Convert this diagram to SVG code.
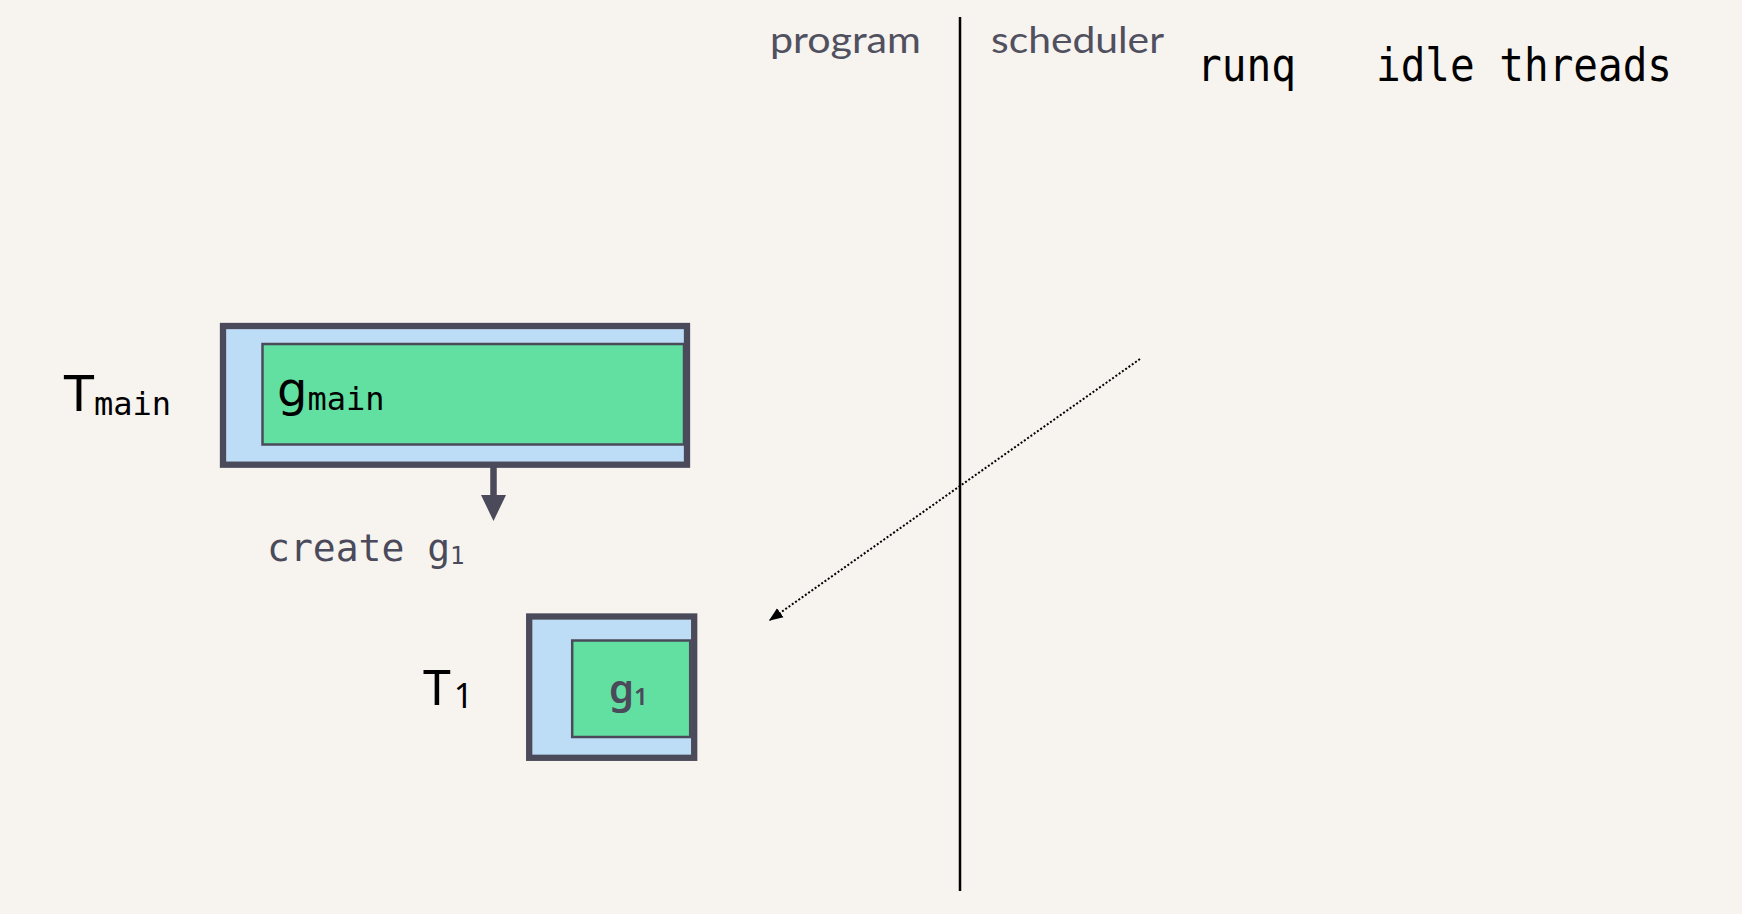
<svg xmlns="http://www.w3.org/2000/svg" width="1742" height="914" viewBox="0 0 1742 914">
  <defs>
    <marker id="dotHead" viewBox="0 0 10 10" refX="9" refY="5" markerWidth="7" markerHeight="7" markerUnits="strokeWidth" orient="auto">
      <path d="M0,1 L10,5 L0,9 z" fill="#000"/>
    </marker>
    <style>
      .thread { fill: #bddcf6; stroke: #4a4a5a; stroke-width: 6.3; }
      .gor { fill: #61e0a2; stroke: #4a4a5a; stroke-width: 2.5; }
      .mono { font-family: "DejaVu Sans Mono", "Liberation Mono", monospace; }
      .sans { font-family: "DejaVu Sans", "Liberation Sans", sans-serif; }
      .soft { font-family: "Noto Sans", Lato, "Liberation Sans", sans-serif; }
      .hdr { font-family: Lato, "Noto Sans", "Liberation Sans", sans-serif; font-size: 36px; font-weight: 400; fill: #50505f; }
    </style>
  </defs>
  <rect x="0" y="0" width="1742" height="914" fill="#f7f3ef"/>

  <g id="headers">
    <text class="hdr" x="770" y="53" textLength="151" lengthAdjust="spacingAndGlyphs">program</text>
    <text class="hdr" x="991" y="53" textLength="173" lengthAdjust="spacingAndGlyphs">scheduler</text>
    <line x1="960" y1="17" x2="960" y2="891" stroke="#000" stroke-width="2.5"/>
  </g>

  <g id="runq">
    <text class="mono" x="1197" y="81" font-size="46" fill="#000" textLength="99" lengthAdjust="spacingAndGlyphs">runq</text>
  </g>
  <g id="idle-threads">
    <text class="mono" x="1376" y="81" font-size="46" fill="#000" textLength="296" lengthAdjust="spacingAndGlyphs">idle threads</text>
  </g>

  <g id="T-main">
    <text x="64" y="411" fill="#000"><tspan class="sans" font-size="49">T</tspan><tspan class="mono" font-size="32" dy="4">main</tspan></text>
    <rect class="thread" x="223" y="326" width="464" height="138.7"/>
    <g id="g-main">
      <rect class="gor" x="262.5" y="344" width="421.5" height="100.5"/>
      <text x="277" y="406" fill="#000"><tspan class="sans" font-size="48">g</tspan><tspan class="mono" font-size="32" dy="4">main</tspan></text>
    </g>
  </g>

  <g id="create-label">
    <text class="mono" x="267" y="561" font-size="38" fill="#4a4a5a">create g<tspan font-size="24" dy="3">1</tspan></text>
  </g>

  <g id="T-1">
    <text class="soft" x="423" y="705" fill="#000"><tspan font-size="50">T</tspan><tspan font-size="34" dx="3" dy="3">1</tspan></text>
    <rect class="thread" x="529.2" y="616.5" width="165" height="141.3"/>
    <g id="g-1">
      <rect class="gor" x="572.2" y="640.5" width="118" height="96.5"/>
      <text class="soft" x="609" y="703" fill="#4a4a5a" font-weight="600"><tspan font-size="40">g</tspan><tspan font-size="24" dy="2">1</tspan></text>
    </g>
  </g>

  <g id="connectors">
    <line x1="493.5" y1="467" x2="493.5" y2="497" stroke="#4a4a5a" stroke-width="6.5"/>
    <path d="M481,495 L506,495 L493.5,521 z" fill="#4a4a5a"/>
    <line x1="1140" y1="359" x2="770" y2="620" stroke="#000" stroke-width="2" stroke-dasharray="2 2" marker-end="url(#dotHead)"/>
  </g>
</svg>
